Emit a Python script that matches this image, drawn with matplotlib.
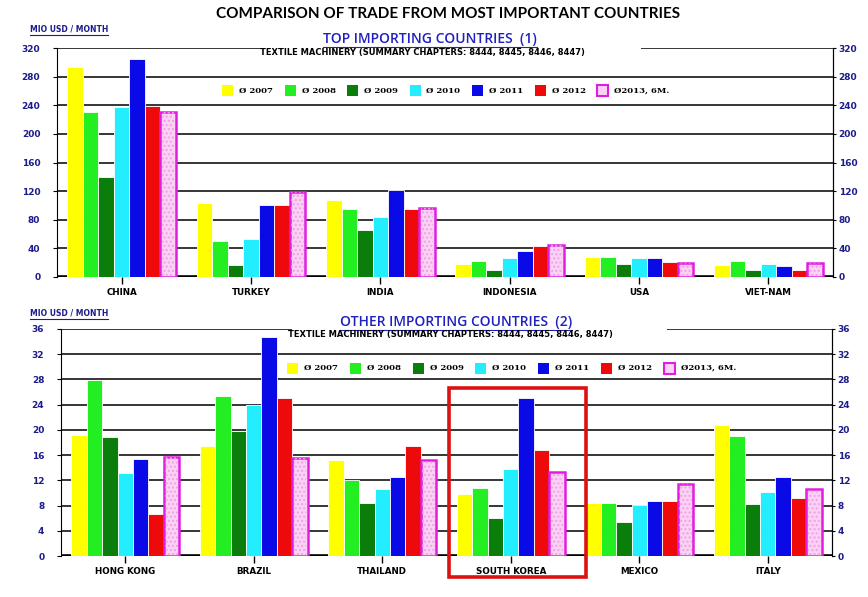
import numpy as np
import matplotlib
matplotlib.use('Agg')
import matplotlib.pyplot as plt
from matplotlib.patches import Rectangle

# Data (MIO USD / month)
years = ['Ø 2007', 'Ø 2008', 'Ø 2009', 'Ø 2010', 'Ø 2011', 'Ø 2012', 'Ø2013, 6M.']
colors = ['#ffff00', '#22ee22', '#0a7d0a', '#22eeff', '#0a0ae6', '#ee0a0a', '#fbd2f4']

top_countries = ['CHINA', 'TURKEY', 'INDIA', 'INDONESIA', 'USA', 'VIET-NAM']
top_values = [
    [293, 103, 108, 18, 28, 17],   # 2007
    [231, 51, 95, 22, 28, 22],     # 2008
    [140, 17, 66, 10, 18, 10],     # 2009
    [238, 53, 84, 26, 26, 18],     # 2010
    [304, 100, 122, 36, 27, 16],   # 2011
    [239, 101, 95, 43, 21, 10],    # 2012
    [230, 119, 96, 45, 19, 19],    # 2013 6M
]

other_countries = ['HONG KONG', 'BRAZIL', 'THAILAND', 'SOUTH KOREA', 'MEXICO', 'ITALY']
other_values = [
    [19.2, 17.5, 15.2, 9.9, 8.4, 20.8],
    [27.9, 25.4, 12.1, 10.8, 8.4, 19.1],
    [18.9, 19.8, 8.4, 6.0, 5.4, 8.3],
    [13.2, 24.0, 10.7, 13.8, 8.1, 10.2],
    [15.4, 34.7, 12.5, 25.0, 8.7, 12.5],
    [6.7, 25.1, 17.5, 16.8, 8.7, 9.2],
    [15.7, 15.5, 15.3, 13.3, 11.4, 10.7],
]

top_ticks = list(range(0, 321, 40))
other_ticks = list(range(0, 37, 4))

W, H = 868, 597
fig = plt.figure(figsize=(W / 100, H / 100), dpi=100)
fig.patch.set_facecolor('white')

label_blue = '#1c1c8c'
pink_edge = '#e01ee0'


def fx(px):
    return px / W


def fy(py):
    return 1 - py / H


def draw_panel(rect, countries, values, ticks):
    ax = fig.add_axes(rect)
    x = np.arange(len(countries))
    bw = 0.12
    for i, vals in enumerate(values):
        last = i == len(values) - 1
        ax.bar(x + (i - 3) * bw, vals, width=bw, color=colors[i],
               edgecolor=pink_edge if last else 'white',
               linewidth=1.8 if last else 0.6, zorder=3)
        if last:
            # dotted fill of the 2013 bars
            ax.bar(x + (i - 3) * bw, vals, width=bw * 0.8, color='none',
                   edgecolor='#f0a0e8', linewidth=0, hatch='....', zorder=3.5)
    ax.set_xlim(-0.5, len(countries) - 0.5)
    ax.set_ylim(0, ticks[-1])
    ax.set_yticks(ticks)
    ax.yaxis.grid(True, color='black', linewidth=1.1)
    ax.set_axisbelow(True)
    ax.axhline(0, color='black', linewidth=2.6, zorder=1)
    ax.set_xticks(x)
    ax.set_xticklabels(countries, fontsize=6.3, fontweight='bold', family='DejaVu Sans')
    ax.tick_params(axis='x', length=5, width=1, pad=3)
    ax.tick_params(axis='y', length=3, labelsize=6.5, labelcolor=label_blue, pad=9)
    for t in ax.get_yticklabels():
        t.set_fontweight('bold')
    ax.spines['top'].set_visible(False)
    ax.spines['bottom'].set_visible(False)
    ax.spines['left'].set_linewidth(0.8)
    ax.spines['right'].set_linewidth(0.8)

    sec = ax.secondary_yaxis('right')
    sec.set_yticks(ticks)
    sec.tick_params(length=2, labelsize=6.5, labelcolor=label_blue, pad=2)
    sec.spines['right'].set_linewidth(0.8)
    for t in sec.get_yticklabels():
        t.set_fontweight('bold')
    return ax


ax1 = draw_panel([fx(57), fy(277), fx(833 - 57), (277 - 48) / H],
                 top_countries, top_values, top_ticks)
ax2 = draw_panel([fx(61), fy(556), fx(832 - 61), (556 - 329) / H],
                 other_countries, other_values, other_ticks)

# white boxes hiding the top gridline under the panel titles
fig.patches.append(Rectangle((fx(264), fy(60)), fx(641 - 264), 22 / H,
                             transform=fig.transFigure, facecolor='white',
                             edgecolor='none', zorder=5))
fig.patches.append(Rectangle((fx(292), fy(342)), fx(667 - 292), 24 / H,
                             transform=fig.transFigure, facecolor='white',
                             edgecolor='none', zorder=5))

# titles
fig.text(fx(448), fy(14), 'COMPARISON OF TRADE FROM MOST IMPORTANT COUNTRIES',
         ha='center', va='center', fontsize=11, fontweight='bold', family='Lato')


def underlined(xc, yc, s, size, color, family='Open Sans', weight='bold', ha='center'):
    t = fig.text(fx(xc), fy(yc), s, ha=ha, va='center', fontsize=size,
                 fontweight=weight, color=color, family=family, zorder=6)
    fig.canvas.draw()
    bb = t.get_window_extent()
    fig.add_artist(plt.Line2D([bb.x0 / W, bb.x1 / W], [bb.y0 / H - 0.002] * 2,
                              transform=fig.transFigure, color=color, lw=0.8, zorder=6))
    return t


underlined(30, 29, 'MIO USD / MONTH', 5.5, label_blue, family='DejaVu Sans', ha='left')
underlined(30, 313, 'MIO USD / MONTH', 5.5, label_blue, family='DejaVu Sans', ha='left')
underlined(430, 39, 'TOP IMPORTING COUNTRIES  (1)', 10, '#2020c0', weight='semibold')
underlined(456, 322, 'OTHER IMPORTING COUNTRIES  (2)', 10, '#2020c0', weight='semibold')
sub = 'TEXTILE MACHINERY (SUMMARY CHAPTERS: 8444, 8445, 8446, 8447)'
fig.text(fx(422), fy(53), sub, ha='center', va='center', fontsize=6,
         fontweight='bold', family='DejaVu Sans', zorder=6)
fig.text(fx(450), fy(334), sub, ha='center', va='center', fontsize=6,
         fontweight='bold', family='DejaVu Sans', zorder=6)


def legend_row(x_start, yc, step):
    for i, (lab, col) in enumerate(zip(years, colors)):
        x0 = x_start + i * step
        last = i == len(years) - 1
        fig.patches.append(Rectangle((fx(x0), fy(yc + 5.5)), 11 / W, 11 / H,
                                     transform=fig.transFigure, facecolor=col,
                                     edgecolor=pink_edge if last else col,
                                     linewidth=1.5 if last else 0, zorder=6))
        fig.text(fx(x0 + 17), fy(yc), lab, ha='left', va='center', fontsize=6.1,
                 fontweight='bold', family='DejaVu Serif', zorder=6)


legend_row(222, 91, 62.5)
legend_row(287, 368, 62.8)

# highlight box around SOUTH KOREA
fig.patches.append(Rectangle((fx(449), fy(577)), fx(586 - 449), (577 - 388) / H,
                             transform=fig.transFigure, facecolor='none',
                             edgecolor='#dd1111', linewidth=2.6, zorder=7))

fig.savefig('out.png', dpi=100)
